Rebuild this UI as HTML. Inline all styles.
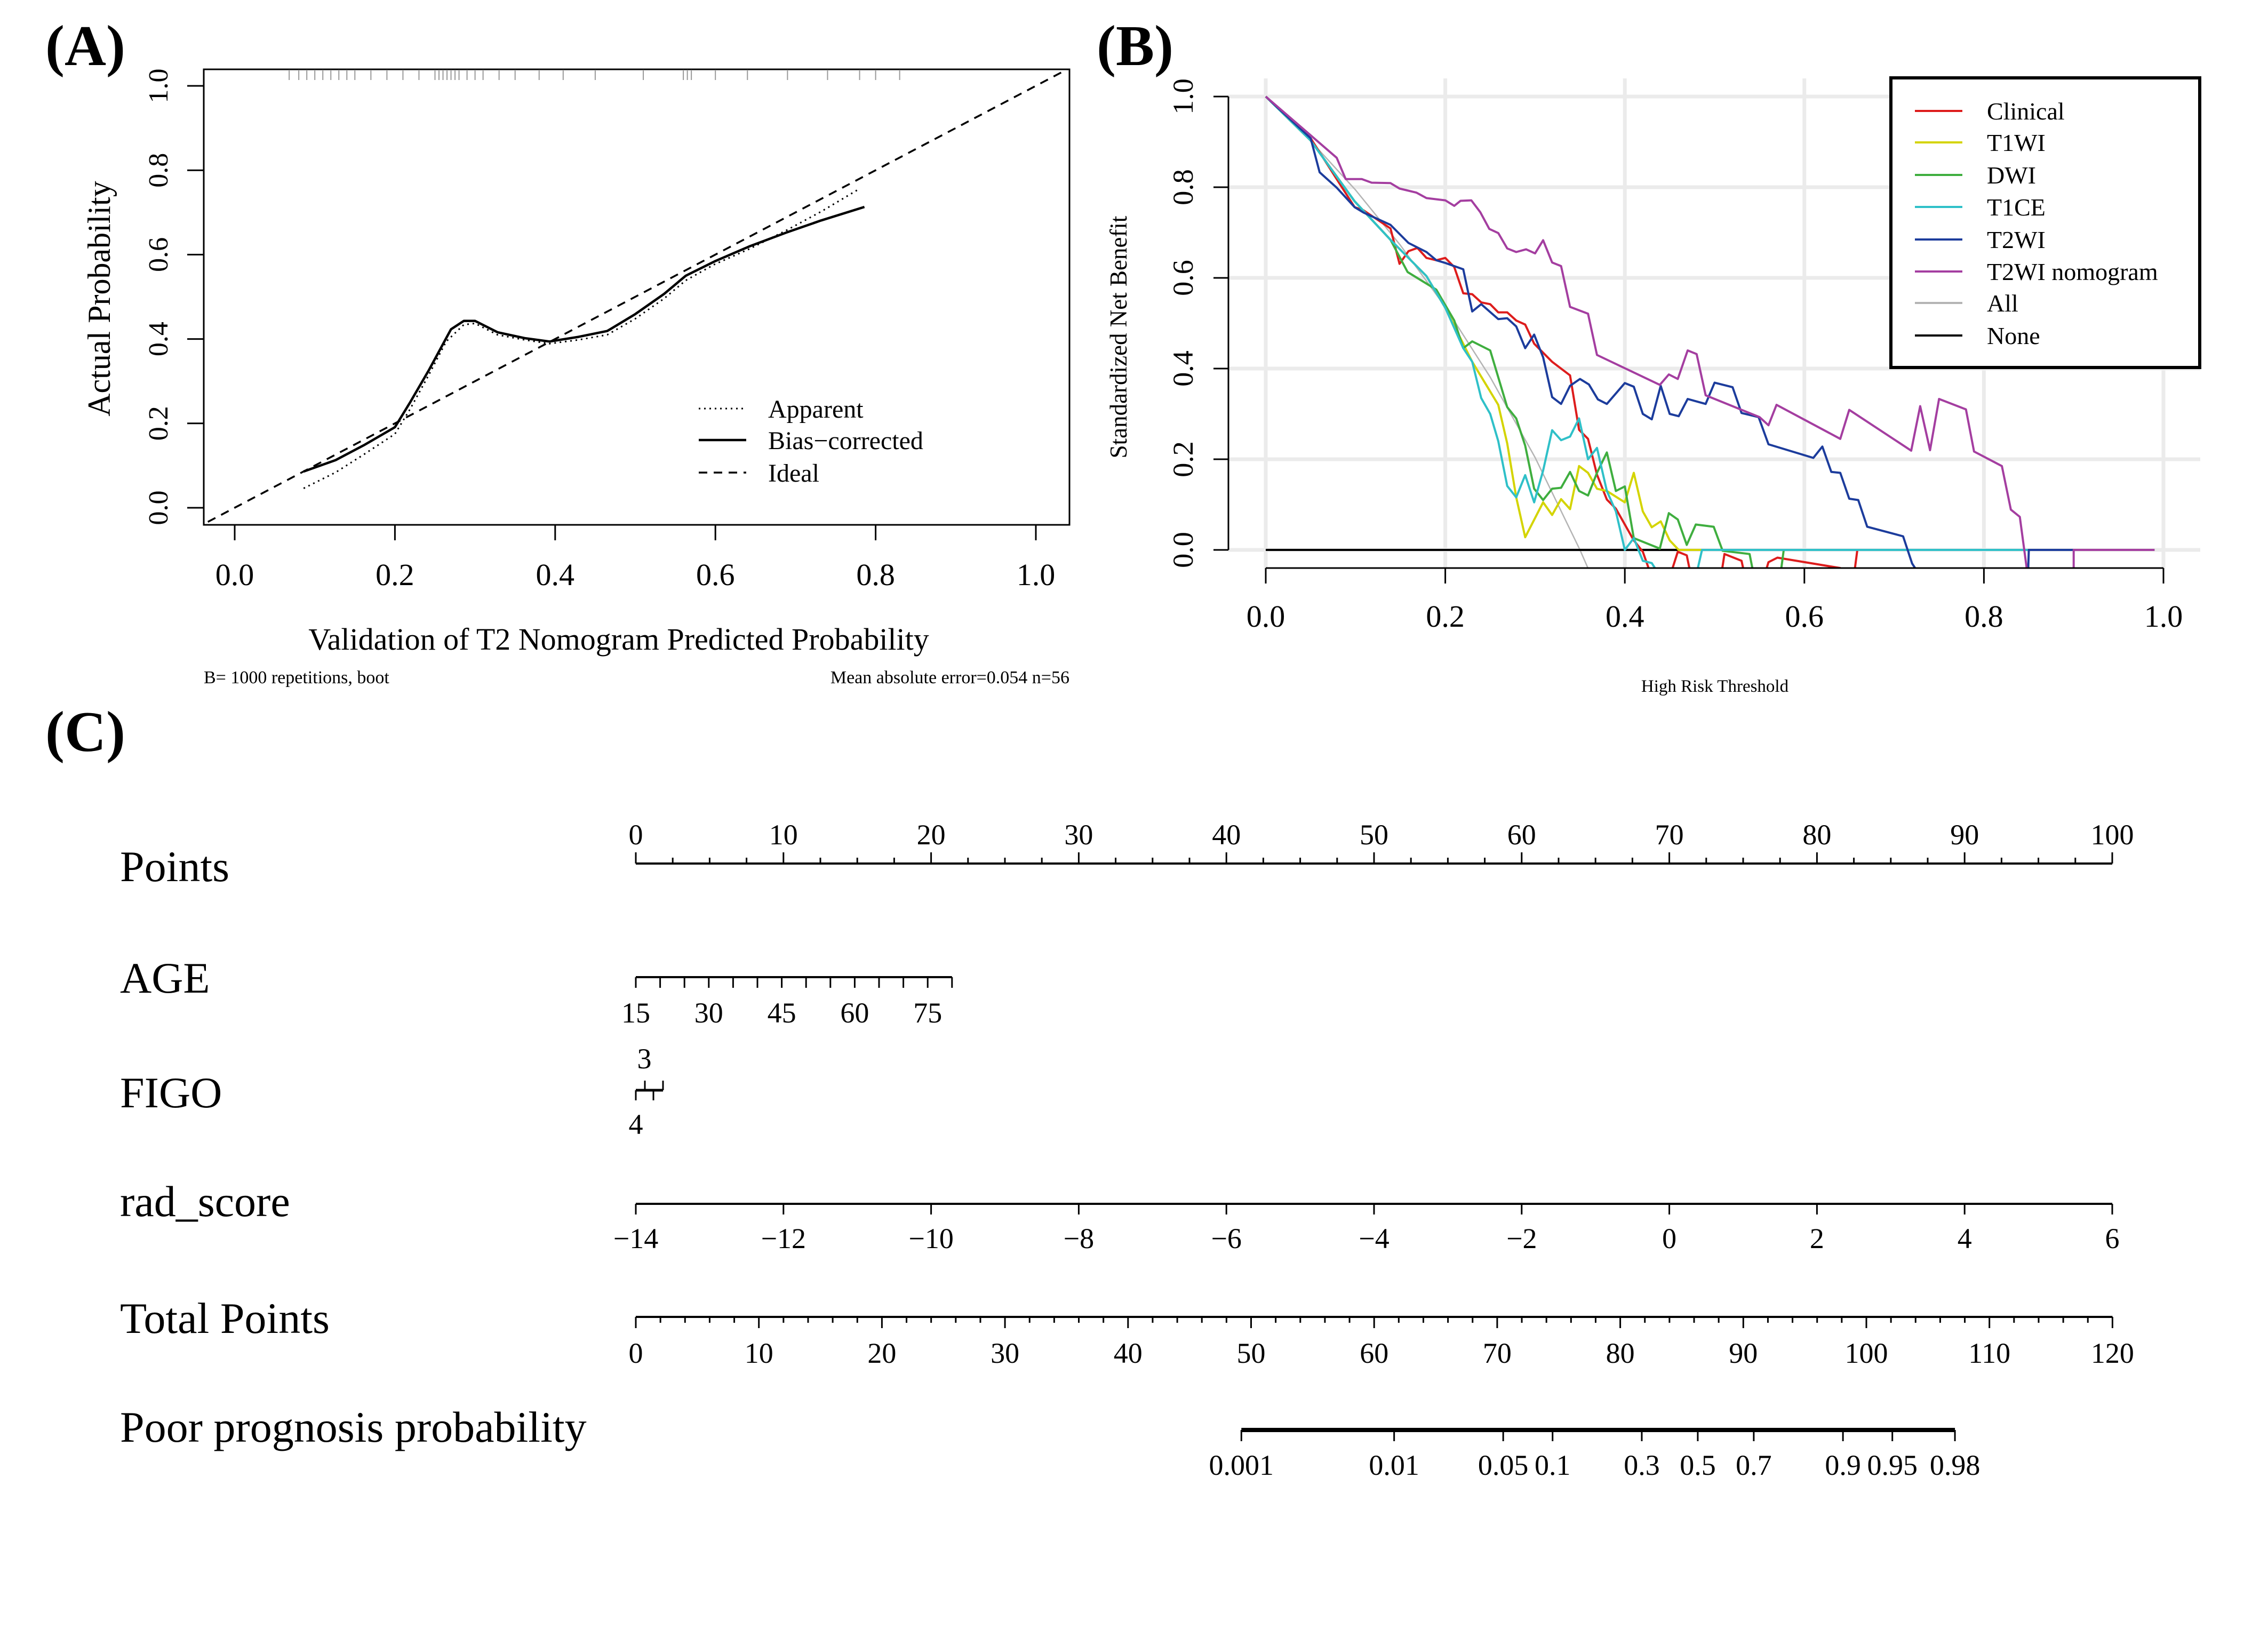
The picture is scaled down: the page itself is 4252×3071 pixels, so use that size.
<!DOCTYPE html>
<html><head><meta charset="utf-8"><style>
html,body{margin:0;padding:0;background:#fff}
svg{display:block;font-family:"Liberation Serif",serif}
</style></head><body>
<svg id="fig" width="4252" height="3071" viewBox="0 0 4252 3071" xmlns="http://www.w3.org/2000/svg">
<rect width="4252" height="3071" fill="#fff"/>
<defs><clipPath id="clipB"><rect x="2303" y="147" width="1822" height="918"/></clipPath>
<clipPath id="clipA"><rect x="382" y="130" width="1623" height="854"/></clipPath></defs>
<g id="A"></g>
<g id="B"></g>
<g id="C"></g>
</svg>
<script>
// ---------- Panel A data ----------
const calX=[0.086,0.126,0.161,0.2,0.219,0.242,0.27,0.286,0.3,0.328,0.362,0.393,0.429,0.465,0.5,0.536,0.563,0.599,0.643,0.688,0.732,0.786];
const biasY=[0.086,0.113,0.148,0.191,0.25,0.325,0.423,0.443,0.443,0.416,0.402,0.394,0.405,0.419,0.459,0.507,0.55,0.584,0.62,0.652,0.681,0.713];
const appX=[0.086,0.126,0.161,0.2,0.219,0.242,0.264,0.286,0.3,0.328,0.362,0.393,0.429,0.465,0.5,0.536,0.563,0.599,0.643,0.688,0.732,0.777];
const appY=[0.046,0.084,0.126,0.175,0.234,0.314,0.394,0.434,0.437,0.41,0.398,0.389,0.398,0.41,0.448,0.496,0.539,0.577,0.614,0.657,0.702,0.753];
const rugX=[0.068,0.08,0.09,0.1,0.11,0.12,0.13,0.14,0.15,0.17,0.19,0.21,0.23,0.25,0.255,0.26,0.265,0.27,0.275,0.28,0.29,0.3,0.31,0.33,0.35,0.38,0.41,0.45,0.51,0.56,0.565,0.57,0.6,0.64,0.69,0.74,0.78,0.8,0.83];
const aTicks=[0,0.2,0.4,0.6,0.8,1.0];
const aTickLabels=["0.0","0.2","0.4","0.6","0.8","1.0"];
// ---------- Panel B data ----------
const bTicks=[0,0.2,0.4,0.6,0.8,1.0];
const bTickLabels=["0.0","0.2","0.4","0.6","0.8","1.0"];
const allX=[0,0.05,0.1,0.15,0.2,0.25,0.3,0.35,0.36];
const allY=[1,0.902,0.794,0.672,0.536,0.381,0.204,0,-0.045];
const noneX=[0,0.99];
const noneY=[0,0];
const clinX=[0,.05,.099,.109,.139,.149,.159,.169,.179,.19,.2,.21,.22,.23,.24,.25,.259,.269,.279,.289,.299,.309,.319,.339,.349,.359,.369,.38,.39,.4,.41,.42,.43,.45,.459,.469,.474,.507,.511,.53,.534,.555,.56,.57,.64,.655,.659,.85];
const clinY=[1,.908,.756,.749,.709,.631,.659,.666,.644,.639,.644,.624,.566,.564,.546,.542,.524,.524,.506,.497,.455,.435,.415,.385,.265,.245,.166,.111,.091,.056,.021,-.004,-.06,-.06,-.004,-.012,-.06,-.06,-.009,-.024,-.06,-.06,-.027,-.017,-.04,-.06,0,0];
const t1wiX=[0,.05,.099,.139,.179,.2,.23,.259,.269,.279,.289,.309,.319,.329,.339,.349,.359,.369,.38,.4,.41,.42,.43,.44,.45,.46,.49];
const t1wiY=[1,.903,.769,.684,.604,.534,.415,.32,.235,.116,.028,.105,.077,.112,.09,.185,.17,.135,.13,.105,.17,.085,.05,.063,.021,0,0];
const dwiX=[0,.05,.099,.139,.158,.19,.21,.22,.23,.25,.269,.279,.289,.299,.309,.319,.329,.339,.349,.359,.369,.38,.39,.4,.41,.439,.449,.459,.469,.479,.499,.509,.539,.544,.573,.577,.85];
const dwiY=[1,.903,.769,.684,.613,.574,.506,.445,.46,.44,.315,.29,.23,.135,.11,.135,.137,.172,.13,.12,.17,.215,.13,.14,.026,.003,.081,.067,.011,.056,.051,-.002,-.009,-.06,-.06,0,0];
const t1ceX=[0,.05,.099,.139,.179,.2,.22,.23,.24,.25,.259,.269,.279,.289,.299,.309,.319,.329,.339,.349,.359,.369,.38,.39,.4,.41,.42,.43,.44,.479,.486,.849];
const t1ceY=[1,.903,.769,.684,.604,.534,.445,.415,.335,.3,.24,.141,.116,.165,.105,.175,.264,.242,.25,.29,.2,.225,.13,.085,0,.026,-.024,-.029,-.06,-.06,0,0];
const t2wiX=[0,.05,.06,.079,.099,.109,.139,.159,.179,.19,.2,.22,.23,.24,.259,.269,.279,.289,.299,.309,.319,.329,.339,.35,.36,.37,.38,.4,.41,.42,.43,.44,.45,.46,.47,.49,.5,.52,.53,.549,.56,.61,.62,.63,.64,.65,.66,.67,.71,.72,.73,.849,.85,.9];
const t2wiY=[1,.908,.833,.799,.756,.744,.717,.677,.657,.639,.633,.619,.526,.542,.509,.511,.493,.445,.475,.425,.337,.322,.362,.377,.365,.332,.322,.368,.36,.3,.288,.362,.3,.295,.333,.322,.369,.359,.302,.293,.233,.203,.228,.172,.17,.113,.11,.051,.03,-.03,-.06,-.06,0,0];
const nomoX=[0,.079,.089,.107,.118,.139,.149,.168,.179,.2,.21,.217,.229,.239,.249,.259,.269,.279,.29,.3,.309,.319,.329,.339,.359,.369,.439,.449,.459,.47,.48,.49,.55,.56,.569,.64,.65,.719,.729,.74,.75,.78,.789,.82,.83,.84,.849,.9,.9,.99];
const nomoY=[1,.865,.818,.818,.81,.809,.797,.788,.776,.771,.759,.77,.771,.745,.708,.699,.665,.657,.663,.654,.683,.634,.626,.536,.521,.43,.364,.387,.377,.44,.432,.341,.293,.275,.32,.245,.309,.219,.317,.22,.333,.31,.217,.185,.089,.073,-.06,-.06,0,0];
const seriesNames=["Clinical","T1WI","DWI","T1CE","T2WI","T2WI nomogram","All","None"];
const seriesColors=["#dd1c1c","#d4d400","#3fae3f","#2fc0c8","#1c3c9c","#a43ea0","#b4b4b4","#000000"];
// ---------- Panel C data ----------
const pointsMajor=[0,10,20,30,40,50,60,70,80,90,100];
const ageMajor=[15,30,45,60,75];
const ageMinor=[15,20,25,30,35,40,45,50,55,60,65,70,75,80];
const radMajor=[-14,-12,-10,-8,-6,-4,-2,0,2,4,6];
const totalMajor=[0,10,20,30,40,50,60,70,80,90,100,110,120];
const probTicks=[0.001,0.01,0.05,0.1,0.3,0.5,0.7,0.9,0.95,0.98];
const probLabels=["0.001","0.01","0.05","0.1","0.3","0.5","0.7","0.9","0.95","0.98"];
const rowLabels=["Points","AGE","FIGO","rad_score","Total Points","Poor prognosis probability"];

const NS="http://www.w3.org/2000/svg";
function mk(parent,tag,attrs){const e=document.createElementNS(NS,tag);for(const k in attrs)e.setAttribute(k,attrs[k]);parent.appendChild(e);return e;}
function txt(parent,x,y,s,size,anchor,rot,extra){const e=mk(parent,'text',{x:x,y:y,'font-size':size,'text-anchor':anchor||'middle',fill:'#000'});if(rot)e.setAttribute('transform','rotate(-90 '+x+' '+y+')');if(extra)for(const k in extra)e.setAttribute(k,extra[k]);e.textContent=s;return e;}
function pathFrom(xs,ys,fx,fy){return xs.map((v,i)=>(i?'L':'M')+fx(v).toFixed(1)+' '+fy(ys[i]).toFixed(1)).join(' ');}

// ===== Panel A =====
const A=document.getElementById('A');
const ax=v=>440+1502*v, ay=v=>952-791*v;
let t=txt(A,160,122,"(A)",108,'middle',false,{'font-weight':'bold'});


let r=mk(A,'rect',{x:382,y:130,width:1623,height:854,fill:'none',stroke:'#000','stroke-width':3});


const gA=mk(A,'g',{'clip-path':'url(#clipA)'});
let ideal=mk(gA,'path',{d:pathFrom([-0.05,1.05],[-0.05,1.05],ax,ay),fill:'none',stroke:'#000','stroke-width':3.5,'stroke-dasharray':'16 12'});


let app=mk(gA,'path',{d:pathFrom(appX,appY,ax,ay),fill:'none',stroke:'#000','stroke-width':3,'stroke-dasharray':'3 7'});


let bias=mk(gA,'path',{d:pathFrom(calX,biasY,ax,ay),fill:'none',stroke:'#000','stroke-width':4.5,'stroke-linejoin':'round'});


rugX.forEach(v=>{const l=mk(A,'line',{x1:ax(v),x2:ax(v),y1:131,y2:150,stroke:'#999','stroke-width':2});

});
aTicks.forEach((v,i)=>{
 const l=mk(A,'line',{x1:351,x2:382,y1:ay(v),y2:ay(v),stroke:'#000','stroke-width':3});
 
 
 const s=txt(A,314,ay(v),aTickLabels[i],52,'middle',true);
 
 
 const l2=mk(A,'line',{x1:ax(v),x2:ax(v),y1:984,y2:1013,stroke:'#000','stroke-width':3});
 
 
 const s2=txt(A,ax(v),1097,aTickLabels[i],58);
 
 
});
t=txt(A,206,560,"Actual Probability",60,'middle',true);


t=txt(A,1160,1218,"Validation of T2 Nomogram Predicted Probability",58);


t=txt(A,382,1281,"B= 1000 repetitions, boot",34,'start');


t=txt(A,2005,1281,"Mean absolute error=0.054 n=56",34,'end');


const legA=[["Apparent","3 7",3],["Bias\u2212corrected",null,4.5],["Ideal","16 12",3.5]];
const legAy=[766,825,886];
legA.forEach((e,i)=>{
 const l=mk(A,'line',{x1:1310,x2:1399,y1:legAy[i],y2:legAy[i],stroke:'#000','stroke-width':e[2]});
 if(e[1])l.setAttribute('stroke-dasharray',e[1]);
 
 
 const s=txt(A,1440,legAy[i]+17,e[0],48,'start');
 
 
});

// ===== Panel B =====
const B=document.getElementById('B');
const bx=v=>2373+1683*v, by=v=>1031-850*v;
t=txt(B,2128,122,"(B)",108,'middle',false,{'font-weight':'bold'});


bTicks.forEach(v=>{
 const g1=mk(B,'line',{x1:2303,x2:4125,y1:by(v),y2:by(v),stroke:'#ebebeb','stroke-width':7});
 
 
 const g2=mk(B,'line',{x1:bx(v),x2:bx(v),y1:147,y2:1065,stroke:'#ebebeb','stroke-width':7});
 
 
});
const gB=mk(B,'g',{'clip-path':'url(#clipB)'});
const order=[6,7,0,1,2,3,4,5];
const xsArr=[clinX,t1wiX,dwiX,t1ceX,t2wiX,nomoX,allX,noneX];
const ysArr=[clinY,t1wiY,dwiY,t1ceY,t2wiY,nomoY,allY,noneY];
order.forEach(i=>{
 const p=mk(gB,'path',{d:pathFrom(xsArr[i],ysArr[i],bx,by),fill:'none',stroke:seriesColors[i],'stroke-width':i==6?2.5:4,'stroke-linejoin':'round'});
 
 
});
let yax=mk(B,'line',{x1:2303,x2:2303,y1:by(0),y2:by(1),stroke:'#000','stroke-width':3});


let xax=mk(B,'line',{x1:bx(0),x2:bx(1),y1:1065,y2:1065,stroke:'#000','stroke-width':3});


bTicks.forEach((v,i)=>{
 const l=mk(B,'line',{x1:2275,x2:2303,y1:by(v),y2:by(v),stroke:'#000','stroke-width':3});
 
 
 const s=txt(B,2236,by(v),bTickLabels[i],54,'middle',true);
 
 
 const l2=mk(B,'line',{x1:bx(v),x2:bx(v),y1:1065,y2:1094,stroke:'#000','stroke-width':3});
 
 
 const s2=txt(B,bx(v),1175,bTickLabels[i],58);
 
 
});
t=txt(B,2112,632,"Standardized Net Benefit",45,'middle',true);


t=txt(B,3215,1297,"High Risk Threshold",33);


let lb=mk(B,'rect',{x:3545,y:146,width:579,height:543,fill:'#fff',stroke:'#000','stroke-width':6});


const legBy=[208,267,328,388,449,509,568,629];
seriesNames.forEach((n,i)=>{
 const l=mk(B,'line',{x1:3590,x2:3679,y1:legBy[i],y2:legBy[i],stroke:seriesColors[i],'stroke-width':4});
 
 
 const s=txt(B,3725,legBy[i]+16,n,46,'start');
 
 
});

// ===== Panel C =====
const C=document.getElementById('C');
const px=v=>1192+27.68*v;
const agex=v=>1192+9.12*(v-15);
const radx=v=>1192+138.4*(v+14);
const totx=v=>1192+23.07*v;
const probx=p=>totx(86.3+5.37*Math.log(p/(1-p)));
t=txt(C,160,1408,"(C)",108,'middle',false,{'font-weight':'bold'});


const rowY=[1652,1861,2076,2280,2499,2703];
rowLabels.forEach((s,i)=>{const e=txt(C,225,rowY[i],s,82,'start');
 
 });
function hline(y,x1,x2,w,name){const l=mk(C,'line',{x1:x1,x2:x2,y1:y,y2:y,stroke:'#000','stroke-width':w||4});
 
 }
function tick(x,y1,y2){const l=mk(C,'line',{x1:x,x2:x,y1:y1,y2:y2,stroke:'#000','stroke-width':3});
 
 }
function lab(x,y,s){const e=txt(C,x,y,s,54);
 
 }
// Points
hline(1619,px(0),px(100),4,'points-axis');
for(let v=0;v<=100;v+=2.5)tick(px(v),1619,(v%10===0)?1598:1608);
pointsMajor.forEach(v=>lab(px(v),1583,String(v)));
// AGE
hline(1832,agex(15),agex(80),4,'age-axis');
ageMinor.forEach(v=>tick(agex(v),1832,1852));
ageMajor.forEach(v=>lab(agex(v),1917,String(v)));
// FIGO
hline(2044,1192,1243,5,'figo-axis');
tick(1192,2044,2063);tick(1225,2044,2063);tick(1209,2044,2026);tick(1243,2044,2026);
lab(1208,2003,"3");lab(1192,2126,"4");
// rad_score
hline(2257,radx(-14),radx(6),4,'rad-score-axis');
radMajor.forEach(v=>{tick(radx(v),2257,2277);lab(radx(v),2340,String(v).replace('-','\u2212'));});
// Total points
hline(2469,totx(0),totx(120),4,'total-points-axis');
for(let v=0;v<=120;v+=2)tick(totx(v),2469,(v%10===0)?2490:2480);
totalMajor.forEach(v=>lab(totx(v),2555,String(v)));
// Probability
hline(2681,probx(0.001),probx(0.98),8,'probability-axis');
probTicks.forEach((p,i)=>{tick(probx(p),2681,2702);lab(probx(p),2765,probLabels[i]);});
</script>
</body></html>
